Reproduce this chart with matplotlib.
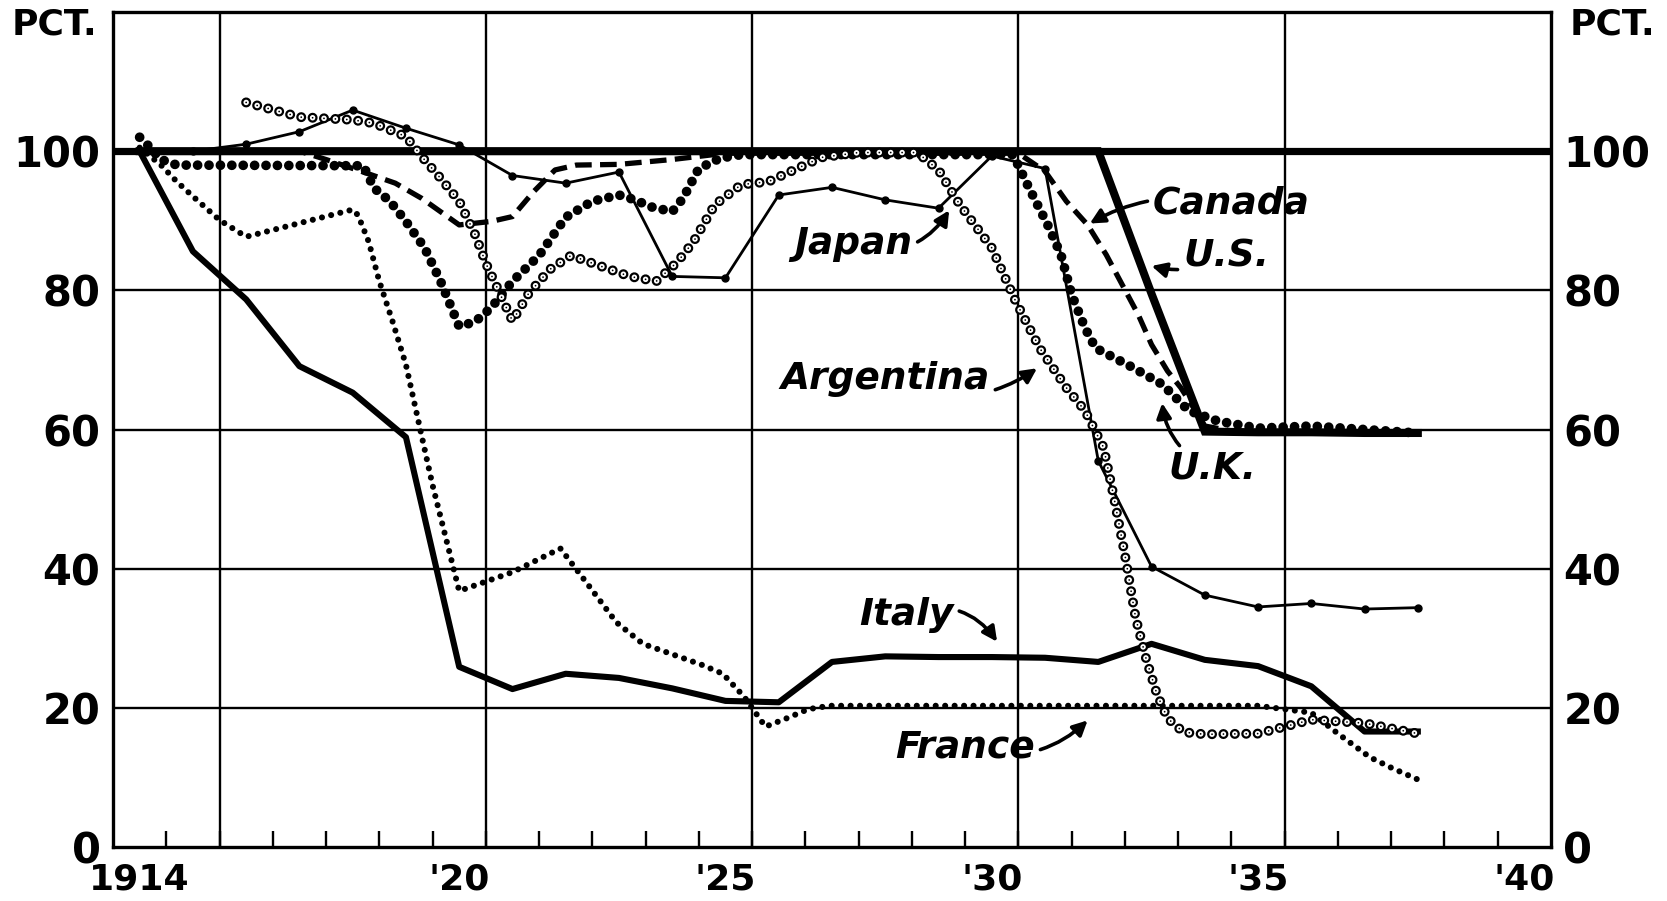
import numpy as np
import matplotlib.pyplot as plt

plt.rcParams['font.family'] = 'DejaVu Sans'
plt.rcParams['lines.scale_dashes'] = False

# ---- data: exchange value, percent of former gold parity ----
years = [1914, 1915, 1916, 1917, 1918, 1919, 1920, 1921, 1922, 1923, 1924, 1925, 1926,
         1927, 1928, 1929, 1930, 1931, 1932, 1933, 1934, 1935, 1936, 1937, 1938]

italy = [100, 85.6, 78.7, 69.1, 65.3, 58.9, 25.9, 22.7, 24.9, 24.3, 22.8, 21.0, 20.8,
         26.6, 27.4, 27.3, 27.3, 27.2, 26.6, 29.2, 26.9, 26.0, 23.1, 16.6, 16.6]

japan = [100, 100, 101.0, 102.8, 105.9, 103.3, 100.9, 96.5, 95.4, 97.0, 82.0, 81.8, 93.7,
         94.8, 93.0, 91.8, 99.3, 97.5, 55.5, 40.3, 36.2, 34.5, 35.0, 34.2, 34.4]

us = [100, 100, 100, 100, 100, 100, 100, 100, 100, 100, 100, 100, 100,
      100, 100, 100, 100, 100, 100, 79.5, 59.7, 59.6, 59.6, 59.5, 59.5]

canada_x = [1914, 1917.0, 1917.5, 1918.2, 1918.8, 1919.3, 1920.0, 1920.6, 1921.0, 1921.4,
            1921.8, 1922.2, 1923.0, 1924.0, 1925.0, 1930.5, 1931.0, 1931.4, 1931.8, 1932.15,
            1932.45, 1932.75, 1933.0, 1933.3, 1933.55, 1933.75, 1934.0, 1934.5]
canada_y = [100, 100, 98.8, 97.0, 95.4, 93.2, 89.4, 89.9, 90.6, 94.2,
            97.3, 98.0, 98.1, 98.8, 99.7, 99.7, 97.1, 92.8, 89.4, 85.1,
            80.8, 76.5, 72.2, 68.4, 66.0, 63.6, 60.5, 59.8]

uk_x = [1914.0, 1914.2, 1914.4, 1914.7, 1918.2, 1918.4, 1918.7, 1919.0, 1919.35, 1919.65,
        1920.0, 1920.3, 1920.6, 1921.0, 1921.5, 1922.0, 1922.5, 1923.0, 1923.3, 1923.6,
        1924.0, 1924.2, 1924.5, 1924.9, 1925.3, 1930.4, 1930.7, 1931.05, 1931.3, 1931.5,
        1931.75, 1931.95, 1932.6, 1933.2, 1933.7, 1934.25, 1935, 1936, 1937, 1938]
uk_y = [102, 100.5, 98.8, 98.0, 97.9, 94.7, 92.8, 89.9, 86.1, 81.3,
        74.8, 75.5, 77.5, 81.3, 85.0, 90.5, 92.8, 93.7, 93.0, 92.0,
        91.3, 93.2, 97.5, 99.0, 99.5, 99.5, 94.7, 89.4, 85.1, 79.4,
        74.6, 71.7, 69.1, 66.5, 62.7, 61.2, 60.2, 60.5, 60.0, 59.5]

arg_x = [1916.0, 1917.0, 1918.0, 1918.4, 1919.0, 1919.3, 1919.65, 1920.0, 1920.3, 1920.5,
         1920.7, 1921.0, 1921.3, 1921.7, 1922.1, 1922.5, 1923.2, 1923.7, 1924.1, 1924.4,
         1924.8, 1925.3, 1925.8, 1926.2, 1926.8, 1927.5, 1928.6, 1929.0, 1929.4, 1930.0,
         1930.45, 1930.9, 1931.4, 1931.75, 1932.1, 1932.3, 1932.5, 1932.7, 1932.9, 1933.1,
         1933.3, 1933.6, 1934.0, 1935.0, 1936.0, 1937.0, 1938.0]
arg_y = [107, 104.9, 104.5, 104.0, 102.1, 99.2, 96.1, 92.8, 88.0, 83.9,
         80.6, 75.6, 79.5, 83.0, 85.0, 83.9, 82.0, 81.3, 84.1, 87.0,
         92.3, 95.2, 95.6, 97.0, 99.1, 99.8, 99.8, 97.3, 92.3, 86.1,
         78.4, 71.7, 66.0, 62.7, 57.4, 50.0, 42.0, 33.0, 27.0, 22.0,
         18.5, 16.5, 16.2, 16.3, 18.3, 17.8, 16.3]

france_x = [1914.0, 1914.4, 1914.7, 1915.0, 1915.5, 1916.0, 1918.0, 1918.1, 1918.3, 1918.5,
            1918.75, 1919.0, 1919.5, 1920.0, 1921.0, 1921.9, 1922.35, 1922.95, 1923.45, 1924.0,
            1924.55, 1924.95, 1925.35, 1925.75, 1926.15, 1926.55, 1926.95, 1935.0, 1936.0, 1936.5,
            1937.1, 1937.5, 1938.0]
france_y = [100.5, 98.0, 95.6, 93.5, 90.1, 87.7, 91.6, 90.8, 87.0, 81.3,
            75.5, 69.3, 52.0, 36.8, 39.5, 42.9, 38.4, 32.3, 29.2, 27.7,
            26.2, 24.9, 21.6, 17.3, 18.5, 19.8, 20.3, 20.3, 19.3, 16.3,
            12.9, 11.4, 9.7]

xtick_pos = [1914, 1920, 1925, 1930, 1935, 1940]
xtick_lab = ['1914', "'20", "'25", "'30", "'35", "'40"]
yticks = [0, 20, 40, 60, 80, 100]


def dots(ax, x, y, size, gap, color='black', z=3):
    # row of round dots along the path
    ax.plot(x, y, color=color, lw=size, linestyle=(0, (0.01, gap)),
            dash_capstyle='round', solid_joinstyle='round', zorder=z)


fig = plt.figure(figsize=(16.67, 9.01), dpi=100)
ax = fig.add_axes([0.0678, 0.0599, 0.8626, 0.9268])
ax.set_xlim(1913.5, 1940.5)
ax.set_ylim(0, 120)

# grid
for gx in [1915.5, 1920.5, 1925.5, 1930.5, 1935.5]:
    ax.axvline(gx, color='black', lw=1.7, zorder=1)
for gy in [20, 40, 60, 80]:
    ax.axhline(gy, color='black', lw=1.7, zorder=1)
ax.axhline(100, color='black', lw=5.2, zorder=2)

# series
ax.plot(years, italy, color='black', lw=4.4, solid_joinstyle='round', zorder=4)
ax.plot(years, us, color='black', lw=5.8, solid_joinstyle='miter', zorder=4)
ax.plot(years, japan, color='black', lw=2.0, marker='o', ms=5, zorder=4)
ax.plot(canada_x, canada_y, color='black', lw=3.8, linestyle=(0, (12, 6)), zorder=3)
dots(ax, uk_x, uk_y, 7.0, 8.2)
dots(ax, france_x, france_y, 4.4, 6.8)
dots(ax, arg_x, arg_y, 7.2, 8.2, z=5)
dots(ax, arg_x, arg_y, 4.0, 8.2, color='white', z=5)
dots(ax, arg_x, arg_y, 1.3, 8.2, z=5)

# axes styling
for s in ax.spines.values():
    s.set_linewidth(2.4)
ax.set_xticks(xtick_pos)
ax.set_xticklabels(xtick_lab)
ax.set_xticks([y + 0.5 for y in years[:-1]] + [1938.5, 1939.5], minor=True)
ax.tick_params(axis='x', which='major', length=0, pad=11, labelsize=26)
ax.tick_params(axis='x', which='minor', direction='in', length=11.5, width=1.7)
ax.set_yticks(yticks)
ax.tick_params(axis='y', length=0, labelsize=30, pad=9, labelright=True)
for lab in ax.get_xticklabels() + ax.get_yticklabels():
    lab.set_fontweight('bold')
for lab in ax.yaxis.get_ticklabels(which='major'):
    lab.set_fontweight('bold')

fig.text(0.007, 0.973, 'PCT.', fontsize=26, fontweight='bold', va='center', ha='left')
fig.text(0.993, 0.973, 'PCT.', fontsize=26, fontweight='bold', va='center', ha='right')

# labels with arrows
lab_kw = dict(fontsize=27, fontweight='bold', fontstyle='italic', ha='center', va='center', zorder=6)
arr = dict(arrowstyle='-|>', color='black', lw=2.6, mutation_scale=22, shrinkA=2, shrinkB=0)
ax.annotate('Japan', xy=(1929.2, 91.5), xytext=(1927.4, 86.7), **lab_kw,
            arrowprops=dict(arr, connectionstyle='arc3,rad=0.4'))
ax.annotate('Argentina', xy=(1930.85, 68.8), xytext=(1928.0, 67.3), **lab_kw,
            arrowprops=dict(arr, connectionstyle='arc3,rad=0.3'))
ax.annotate('Canada', xy=(1931.84, 89.6), xytext=(1934.5, 92.5), **lab_kw,
            arrowprops=dict(arr, connectionstyle='arc3,rad=0.2'))
ax.annotate('U.S.', xy=(1933.0, 83.5), xytext=(1934.4, 84.8), **lab_kw,
            arrowprops=dict(arr, connectionstyle='arc3,rad=-0.2'))
ax.annotate('U.K.', xy=(1933.2, 63.8), xytext=(1934.15, 54.4), **lab_kw,
            arrowprops=dict(arr, connectionstyle='arc3,rad=-0.3'))
ax.annotate('Italy', xy=(1930.1, 29.5), xytext=(1928.4, 33.3), **lab_kw,
            arrowprops=dict(arr, connectionstyle='arc3,rad=-0.4'))
ax.annotate('France', xy=(1931.8, 18.2), xytext=(1929.5, 14.3), **lab_kw,
            arrowprops=dict(arr, connectionstyle='arc3,rad=0.3'))

fig.savefig('out.png', dpi=100)
